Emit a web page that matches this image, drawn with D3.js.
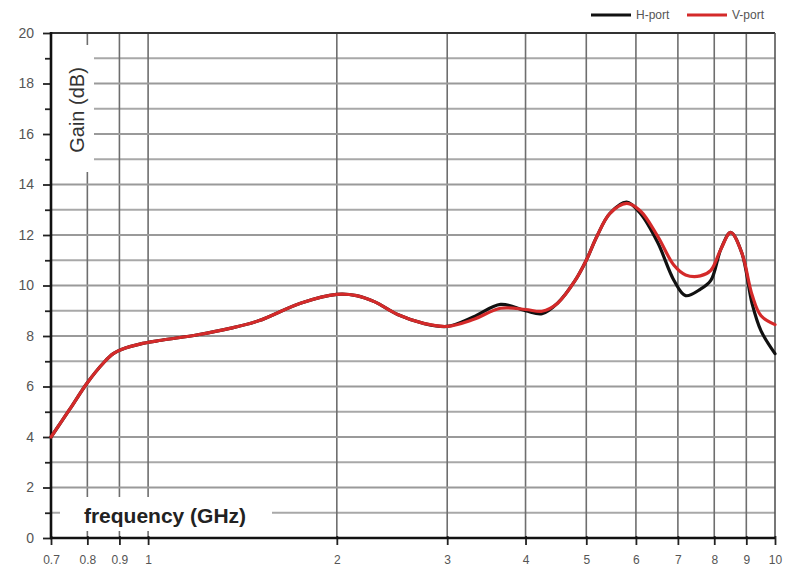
<!DOCTYPE html>
<html><head><meta charset="utf-8">
<script src="https://cdn.jsdelivr.net/npm/d3@7/dist/d3.min.js"></script>
<style>html,body{margin:0;padding:0;background:#fff;} svg{display:block;font-family:"Liberation Sans",Arial,sans-serif;}</style>
</head><body><svg id="c" width="792" height="576"></svg>
<script>
const freqGHz   = [0.7, 0.75, 0.8, 0.85, 0.88, 0.92, 0.97, 1.05, 1.2, 1.35, 1.5, 1.75, 2.0, 2.15, 2.3, 2.5, 2.75, 3.0, 3.3, 3.65, 4.0, 4.25, 4.5, 4.8, 5.0, 5.2, 5.45, 5.8, 6.1, 6.5, 6.9, 7.2, 7.6, 7.9, 8.2, 8.5, 8.85, 9.2, 9.5, 10];
const hPortGain = [4.0, 5.1, 6.15, 6.95, 7.3, 7.52, 7.68, 7.83, 8.05, 8.3, 8.6, 9.3, 9.65, 9.6, 9.35, 8.85, 8.5, 8.38, 8.75, 9.25, 9.0, 8.88, 9.3, 10.2, 11.0, 11.95, 12.85, 13.3, 12.85, 11.7, 10.2, 9.6, 9.85, 10.2, 11.45, 12.1, 11.3, 9.25, 8.2, 7.3];
const vPortGain = [4.0, 5.1, 6.15, 6.95, 7.3, 7.52, 7.68, 7.83, 8.05, 8.3, 8.6, 9.3, 9.65, 9.6, 9.35, 8.85, 8.5, 8.38, 8.65, 9.1, 9.05, 8.98, 9.3, 10.2, 11.0, 11.95, 12.85, 13.25, 12.95, 11.95, 10.8, 10.42, 10.38, 10.6, 11.45, 12.1, 11.3, 9.6, 8.8, 8.45];
const xTickValues = [0.7, 0.8, 0.9, 1, 2, 3, 4, 5, 6, 7, 8, 9, 10];
const xTickLabels = ["0.7", "0.8", "0.9", "1", "2", "3", "4", "5", "6", "7", "8", "9", "10"];
const yTickValues = [0, 1, 2, 3, 4, 5, 6, 7, 8, 9, 10, 11, 12, 13, 14, 15, 16, 17, 18, 19, 20];
const seriesNames = ["H-port", "V-port"];
const seriesColors = ["#111111", "#d42a2a"];

const L = 51, R = 775, T = 33, B = 538;
const svg = d3.select("#c");
const x = d3.scaleLog().domain([0.7, 10]).range([L, R]);
const y = d3.scaleLinear().domain([0, 20]).range([B, T]);

// minor horizontal grid (odd) and vertical grid
const g = svg.append("g");
g.selectAll("line.hmin").data(yTickValues.filter(v => v % 2 === 1)).enter().append("line")
  .attr("x1", L).attr("x2", R).attr("y1", d => y(d)).attr("y2", d => y(d))
  .attr("stroke", "#a8a8a8").attr("stroke-width", 2);
g.selectAll("line.v").data(xTickValues.slice(1, -1)).enter().append("line")
  .attr("x1", d => x(d)).attr("x2", d => x(d)).attr("y1", T).attr("y2", B)
  .attr("stroke", "#6e6e6e").attr("stroke-width", 1.6);

// white label boxes
svg.append("rect").attr("x", L + 1).attr("y", 45).attr("width", 42).attr("height", 127).attr("fill", "#fff");
svg.append("rect").attr("x", 60).attr("y", 497).attr("width", 212).attr("height", 34).attr("fill", "#fff");

// major horizontal grid (even)
g.append("g").selectAll("line").data(yTickValues.filter(v => v % 2 === 0 && v > 0 && v < 20)).enter().append("line")
  .attr("x1", L).attr("x2", R).attr("y1", d => y(d)).attr("y2", d => y(d))
  .attr("stroke", "#9a9a9a").attr("stroke-width", 2);

// borders
svg.append("line").attr("x1", L).attr("x2", R).attr("y1", T).attr("y2", T).attr("stroke", "#333").attr("stroke-width", 2.2);
svg.append("line").attr("x1", R).attr("x2", R).attr("y1", T).attr("y2", B).attr("stroke", "#555").attr("stroke-width", 1.6);

// axes
const yAxis = d3.axisLeft(y).tickValues(yTickValues).tickSize(7).tickPadding(10)
  .tickFormat(d => d % 2 === 0 ? d : "");
const ya = svg.append("g").attr("transform", `translate(${L},0)`).call(yAxis);
ya.select(".domain").remove();
ya.selectAll(".tick line").attr("stroke", "#222").attr("stroke-width", 1.8).attr("x2", d => d % 2 === 0 ? -8 : -6);
ya.selectAll(".tick text").attr("fill", "#555").attr("font-size", 14).attr("x", -17).attr("font-family", "Liberation Sans, Arial, sans-serif");

const xAxis = d3.axisBottom(x).tickValues(xTickValues).tickSize(7).tickPadding(10)
  .tickFormat((d, i) => xTickLabels[i]);
const xa = svg.append("g").attr("transform", `translate(0,${B})`).call(xAxis);
xa.select(".domain").remove();
xa.selectAll(".tick line").attr("stroke", "#222").attr("stroke-width", 1.8).attr("y1", -2);
xa.selectAll(".tick text").attr("fill", "#555").attr("font-size", 12).attr("y", 17).attr("font-family", "Liberation Sans, Arial, sans-serif");

svg.append("line").attr("x1", L).attr("x2", L).attr("y1", T - 1).attr("y2", B + 1).attr("stroke", "#111").attr("stroke-width", 2.6);
svg.append("line").attr("x1", L - 1).attr("x2", R).attr("y1", B).attr("y2", B).attr("stroke", "#111").attr("stroke-width", 2.6);

// curves
const line = d3.line().curve(d3.curveCatmullRom.alpha(0.5)).x(d => x(d[0])).y(d => y(d[1]));
const series = [hPortGain, vPortGain];
series.forEach((vals, i) => {
  svg.append("path").datum(freqGHz.map((f, j) => [f, vals[j]]))
    .attr("d", line).attr("fill", "none").attr("stroke", seriesColors[i])
    .attr("stroke-width", 3.2).attr("stroke-linejoin", "round").attr("stroke-linecap", "round");
});

// axis titles
svg.append("text").attr("transform", "translate(84,110) rotate(-90)").attr("text-anchor", "middle")
  .attr("font-size", 20).attr("fill", "#333").text("Gain (dB)");
svg.append("text").attr("x", 165).attr("y", 523).attr("text-anchor", "middle")
  .attr("font-size", 21).attr("font-weight", "bold").attr("fill", "#222").text("frequency (GHz)");

// legend
const legX = [591, 687], legTX = [636, 732];
seriesNames.forEach((n, i) => {
  svg.append("line").attr("x1", legX[i]).attr("x2", legX[i] + 40).attr("y1", 15).attr("y2", 15)
    .attr("stroke", seriesColors[i]).attr("stroke-width", 3);
  svg.append("text").attr("x", legTX[i]).attr("y", 19).attr("font-size", 12).attr("fill", "#555").text(n);
});
</script></body></html>
